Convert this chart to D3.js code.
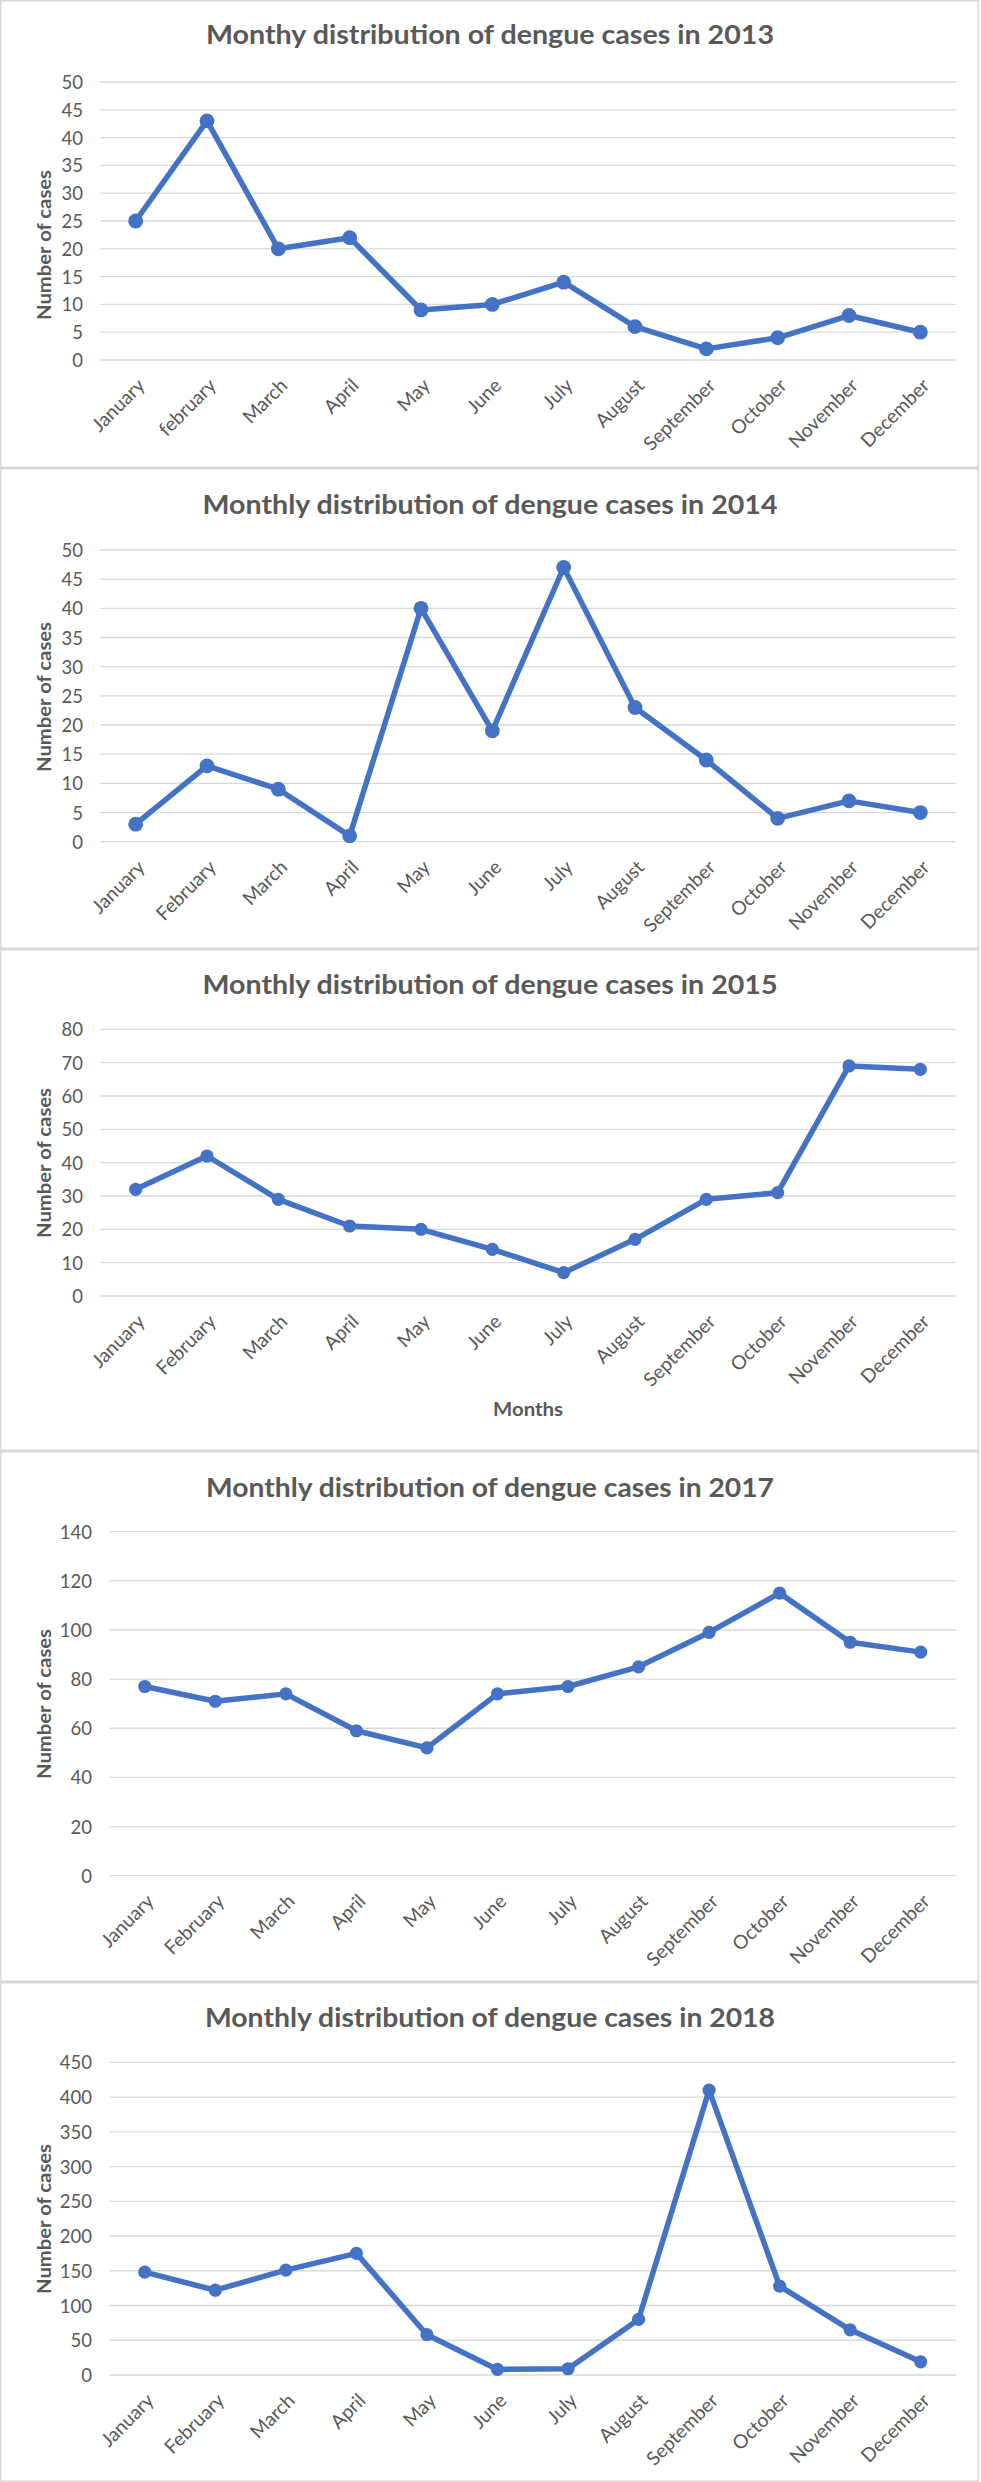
<!DOCTYPE html>
<html>
<head>
<meta charset="utf-8">
<script src="https://cdn.jsdelivr.net/npm/d3@7"></script>
<style>
  html, body { margin: 0; padding: 0; background: #ffffff; }
  svg { display: block; }
  text { font-family: Lato, "Open Sans", sans-serif; }
</style>
</head>
<body>
<div id="chart"></div>
<script>
// ---------------- Data ----------------
const months2013 = ["January","february","March","April","May","June","July","August","September","October","November","December"];
const months = ["January","February","March","April","May","June","July","August","September","October","November","December"];

const cases2013 = [25, 43, 20, 22, 9, 10, 14, 6, 2, 4, 8, 5];
const cases2014 = [3, 13, 9, 1, 40, 19, 47, 23, 14, 4, 7, 5];
const cases2015 = [32, 42, 29, 21, 20, 14, 7, 17, 29, 31, 69, 68];
const cases2017 = [77, 71, 74, 59, 52, 74, 77, 85, 99, 115, 95, 91];
const cases2018 = [148, 122, 151, 175, 58, 8, 9, 80, 410, 128, 65, 19];

const ticks2013 = [0, 5, 10, 15, 20, 25, 30, 35, 40, 45, 50];
const ticks2014 = [0, 5, 10, 15, 20, 25, 30, 35, 40, 45, 50];
const ticks2015 = [0, 10, 20, 30, 40, 50, 60, 70, 80];
const ticks2017 = [0, 20, 40, 60, 80, 100, 120, 140];
const ticks2018 = [0, 50, 100, 150, 200, 250, 300, 350, 400, 450];

const titles = [
  "Monthy distribution of dengue cases in 2013",
  "Monthly distribution of dengue cases in 2014",
  "Monthly distribution of dengue cases in 2015",
  "Monthly distribution of dengue cases in 2017",
  "Monthly distribution of dengue cases in 2018"
];
const yAxisTitle = "Number of cases";
const xAxisTitle2015 = "Months";

// ---------------- Layout ----------------
const W = 981, H = 2482;
const panels = [
  {title: titles[0], cats: months2013, vals: cases2013, ticks: ticks2013, titleW: 568, r: 7.4,
   top: 0, bottom: 468, titleY: 43.5, x0: 100, x1: 956, y0: 360, y1: 82, tickRight: 83, axisTitleY: 245},
  {title: titles[1], cats: months, vals: cases2014, ticks: ticks2014, titleW: 575, r: 7.4,
   top: 468, bottom: 949, titleY: 513.5, x0: 100, x1: 956, y0: 841.7, y1: 550, tickRight: 83, axisTitleY: 697},
  {title: titles[2], cats: months, vals: cases2015, ticks: ticks2015, titleW: 575, r: 6.6,
   top: 949, bottom: 1451, titleY: 993.5, x0: 100, x1: 956, y0: 1296, y1: 1029.3, tickRight: 83, axisTitleY: 1163,
   xTitle: xAxisTitle2015, xTitleX: 528, xTitleY: 1416},
  {title: titles[3], cats: months, vals: cases2017, ticks: ticks2017, titleW: 568, r: 6.6,
   top: 1451, bottom: 1982, titleY: 1497, x0: 109.5, x1: 956, y0: 1875.7, y1: 1531.7, tickRight: 92, axisTitleY: 1704},
  {title: titles[4], cats: months, vals: cases2018, ticks: ticks2018, titleW: 570, r: 6.6,
   top: 1982, bottom: 2482, titleY: 2027, x0: 109.5, x1: 956, y0: 2375, y1: 2062.3, tickRight: 92, axisTitleY: 2219}
];

const TEXT = "#595959";
const GRID = "#d9d9d9";
const BLUE = "#4472C4";

const svg = d3.select("#chart").append("svg")
  .attr("width", W).attr("height", H)
  .attr("viewBox", `0 0 ${W} ${H}`);

svg.append("rect").attr("width", W).attr("height", H).attr("fill", "#ffffff");

// font size that gives a string a target advance width
function fitSize(str, weight, target) {
  const t = svg.append("text").style("font-size", "100px").style("font-weight", weight).text(str);
  const w = t.node().getComputedTextLength();
  t.remove();
  return 100 * target / w;
}
const labelSize = fitSize("September", "normal", 92);
const tickSize = fitSize("50", "normal", 21.5);

panels.forEach(p => {
  const g = svg.append("g");

  // panel frame
  g.append("rect")
    .attr("x", 0.75).attr("y", p.top + 0.75)
    .attr("width", 977.5).attr("height", p.bottom - p.top - 1.5)
    .attr("fill", "#ffffff")
    .attr("stroke", GRID).attr("stroke-width", 1.5);

  const x = d3.scalePoint().domain(p.cats).range([p.x0, p.x1]).padding(0.5);
  const y = d3.scaleLinear().domain([0, d3.max(p.ticks)]).range([p.y0, p.y1]);

  // gridlines
  g.append("g").selectAll("line").data(p.ticks).join("line")
    .attr("x1", p.x0).attr("x2", p.x1)
    .attr("y1", d => y(d)).attr("y2", d => y(d))
    .attr("stroke", GRID).attr("stroke-width", 1.3);

  // y axis labels
  const yAxis = g.append("g")
    .attr("transform", `translate(${p.x0},0)`)
    .call(d3.axisLeft(y).tickValues(p.ticks).tickSize(0).tickPadding(p.x0 - p.tickRight).tickFormat(d3.format("d")));
  yAxis.select(".domain").remove();
  yAxis.selectAll("text")
    .attr("fill", TEXT)
    .attr("dy", "0.35em")
    .style("font-size", tickSize + "px")
    .style("font-family", "Lato, sans-serif");

  // x axis labels (rotated -45°, top-right corner just below the category)
  const xAxis = g.append("g")
    .attr("transform", `translate(0,${p.y0})`)
    .call(d3.axisBottom(x).tickSize(0));
  xAxis.select(".domain").remove();
  xAxis.selectAll("text")
    .attr("fill", TEXT)
    .style("font-size", labelSize + "px")
    .style("font-family", "Lato, sans-serif")
    .attr("text-anchor", "end")
    .attr("x", 0).attr("y", 0).attr("dy", "0.5em")
    .attr("transform", "translate(3,20) rotate(-45)");

  // line
  const line = d3.line()
    .x((d, i) => x(p.cats[i]))
    .y(d => y(d));
  g.append("path")
    .datum(p.vals)
    .attr("d", line)
    .attr("fill", "none")
    .attr("stroke", BLUE)
    .attr("stroke-width", 5.5)
    .attr("stroke-linejoin", "round")
    .attr("stroke-linecap", "round");

  // markers
  g.append("g").selectAll("circle").data(p.vals).join("circle")
    .attr("cx", (d, i) => x(p.cats[i]))
    .attr("cy", d => y(d))
    .attr("r", p.r)
    .attr("fill", BLUE);

  // title
  g.append("text")
    .attr("x", 490).attr("y", p.titleY)
    .attr("text-anchor", "middle")
    .attr("fill", TEXT)
    .attr("textLength", p.titleW)
    .attr("lengthAdjust", "spacingAndGlyphs")
    .style("font-size", "26.5px")
    .style("font-weight", "bold")
    .text(p.title);

  // y axis title
  g.append("text")
    .attr("transform", `translate(51,${p.axisTitleY}) rotate(-90)`)
    .attr("x", -75)
    .attr("fill", TEXT)
    .attr("textLength", 150)
    .attr("lengthAdjust", "spacingAndGlyphs")
    .style("font-size", "19px")
    .style("font-weight", "bold")
    .text(yAxisTitle);

  // x axis title (only on 2015 chart)
  if (p.xTitle) {
    g.append("text")
      .attr("x", p.xTitleX - 35).attr("y", p.xTitleY)
      .attr("fill", TEXT)
      .attr("textLength", 70)
      .attr("lengthAdjust", "spacingAndGlyphs")
      .style("font-size", "19px")
      .style("font-weight", "bold")
      .text(p.xTitle);
  }
});
</script>
</body>
</html>
